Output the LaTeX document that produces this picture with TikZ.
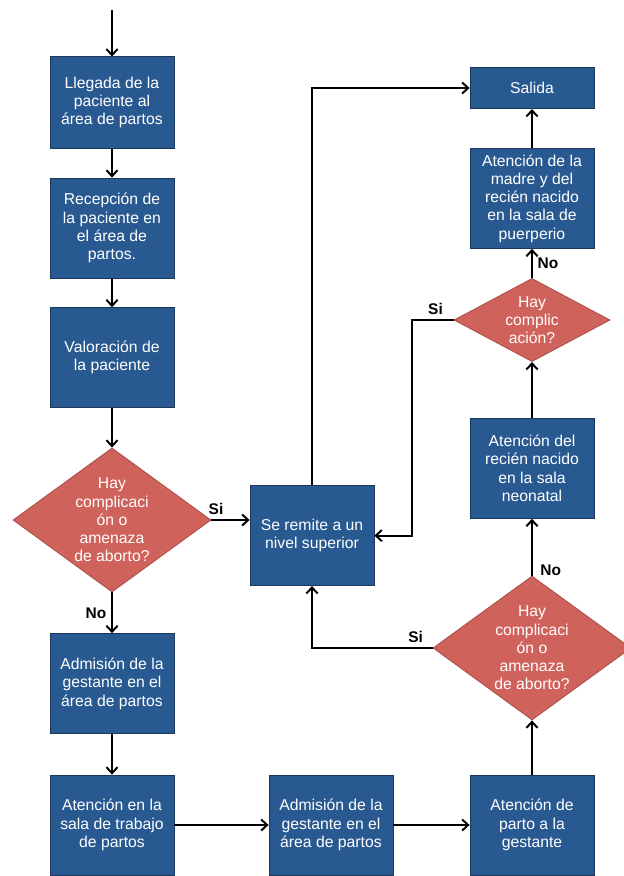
\documentclass[tikz,border=0pt]{standalone}
\usepackage{fontspec}
\setmainfont{Liberation Sans}
\usetikzlibrary{arrows.meta, shapes.geometric}
\definecolor{boxblue}{RGB}{41,89,145}
\definecolor{boxedge}{RGB}{28,55,92}
\definecolor{decred}{RGB}{208,98,92}
\definecolor{decedge}{RGB}{170,78,74}

\begin{document}
\begin{tikzpicture}[
    box/.style={draw=boxedge, line width=0.6pt, fill=boxblue, text=white, minimum width=3.1cm, minimum height=2.5cm, inner sep=2pt, align=center, font=\fontsize{11.2}{13}\selectfont},
    dec/.style={diamond, draw=decedge, line width=0.6pt, fill=decred, minimum width=4.95cm, minimum height=3.6cm, inner sep=0pt},
    dectext/.style={text=white, align=center, font=\fontsize{11.2}{13}\selectfont},
    arr/.style={-{Straight Barb[length=1.5mm, width=2.8mm]}, line width=1.4pt},
    lbl/.style={font=\bfseries\fontsize{11}{13}\selectfont}
]
    \useasboundingbox (0,0) rectangle (15.6,-21.9);

    % left column
    \coordinate (start) at (2.8,-0.25);
    \node[box, minimum height=2.28cm] (llegada) at (2.8,-2.5625) {Llegada de la\\paciente al\\área de partos};
    \node[box] (recep) at (2.8,-5.7) {Recepción de\\la paciente en\\el área de\\partos.};
    \node[box] (valor) at (2.8,-8.94) {Valoración de\\la paciente};
    \node[dec, label={[dectext]center:Hay\\complicaci\\ón o\\amenaza\\de aborto?}] (d1) at (2.8,-13.0) {};
    \node[box] (admis) at (2.8,-17.09) {Admisión de la\\gestante en el\\área de partos};
    \node[box] (sala) at (2.8,-20.625) {Atención en la\\sala de trabajo\\de partos};

    % bottom row and centre
    \node[box] (admis2) at (8.275,-20.625) {Admisión de la\\gestante en el\\área de partos};
    \node[box] (remite) at (7.8,-13.39) {Se remite a un\\nivel superior};

    % right column
    \node[box] (parto) at (13.3,-20.625) {Atención de\\parto a la\\gestante};
    \node[dec, label={[dectext]center:Hay\\complicaci\\ón o\\amenaza\\de aborto?}] (d2) at (13.3,-16.2) {};
    \node[box] (neonat) at (13.3,-11.71) {Atención del\\recién nacido\\en la sala\\neonatal};
    \node[dec, minimum width=3.9cm, minimum height=2.08cm, label={[dectext]center:Hay\\complic\\ación?}] (d3) at (13.3,-8.0) {};
    \node[box] (madre) at (13.3,-4.96) {Atención de la\\madre y del\\recién nacido\\en la sala de\\puerperio};
    \node[box, minimum height=1.03cm] (salida) at (13.3,-2.2) {Salida};

    \draw[arr] (start) -- (llegada);
    \draw[arr] (llegada) -- (recep);
    \draw[arr] (recep) -- (valor);
    \draw[arr] (valor) -- (d1);
    \draw[arr] (d1.east) -- (d1.east -| remite.west) node[lbl, above, pos=0.12] {Si};
    \draw[arr] (d1) -- (admis) node[lbl, left, midway] {No};
    \draw[arr] (admis) -- (sala);
    \draw[arr] (sala) -- (admis2);
    \draw[arr] (admis2) -- (parto);
    \draw[arr] (parto) -- (d2);
    \draw[arr] (d2) -- (neonat) node[lbl, right, pos=0.1, xshift=2pt] {No};
    \draw[arr] (d2.west) -| (remite.south) node[lbl, above, pos=0.07] {Si};
    \draw[arr] (neonat) -- (d3);
    \draw[arr] (d3) -- (madre) node[lbl, right, midway] {No};
    \draw[arr] (d3.west) -- ++(-1.05,0) node[lbl, above, pos=0.43] {Si} |- (remite.east);
    \draw[arr] (remite.north) |- (salida.west);
    \draw[arr] (madre) -- (salida);
\end{tikzpicture}
\end{document}
